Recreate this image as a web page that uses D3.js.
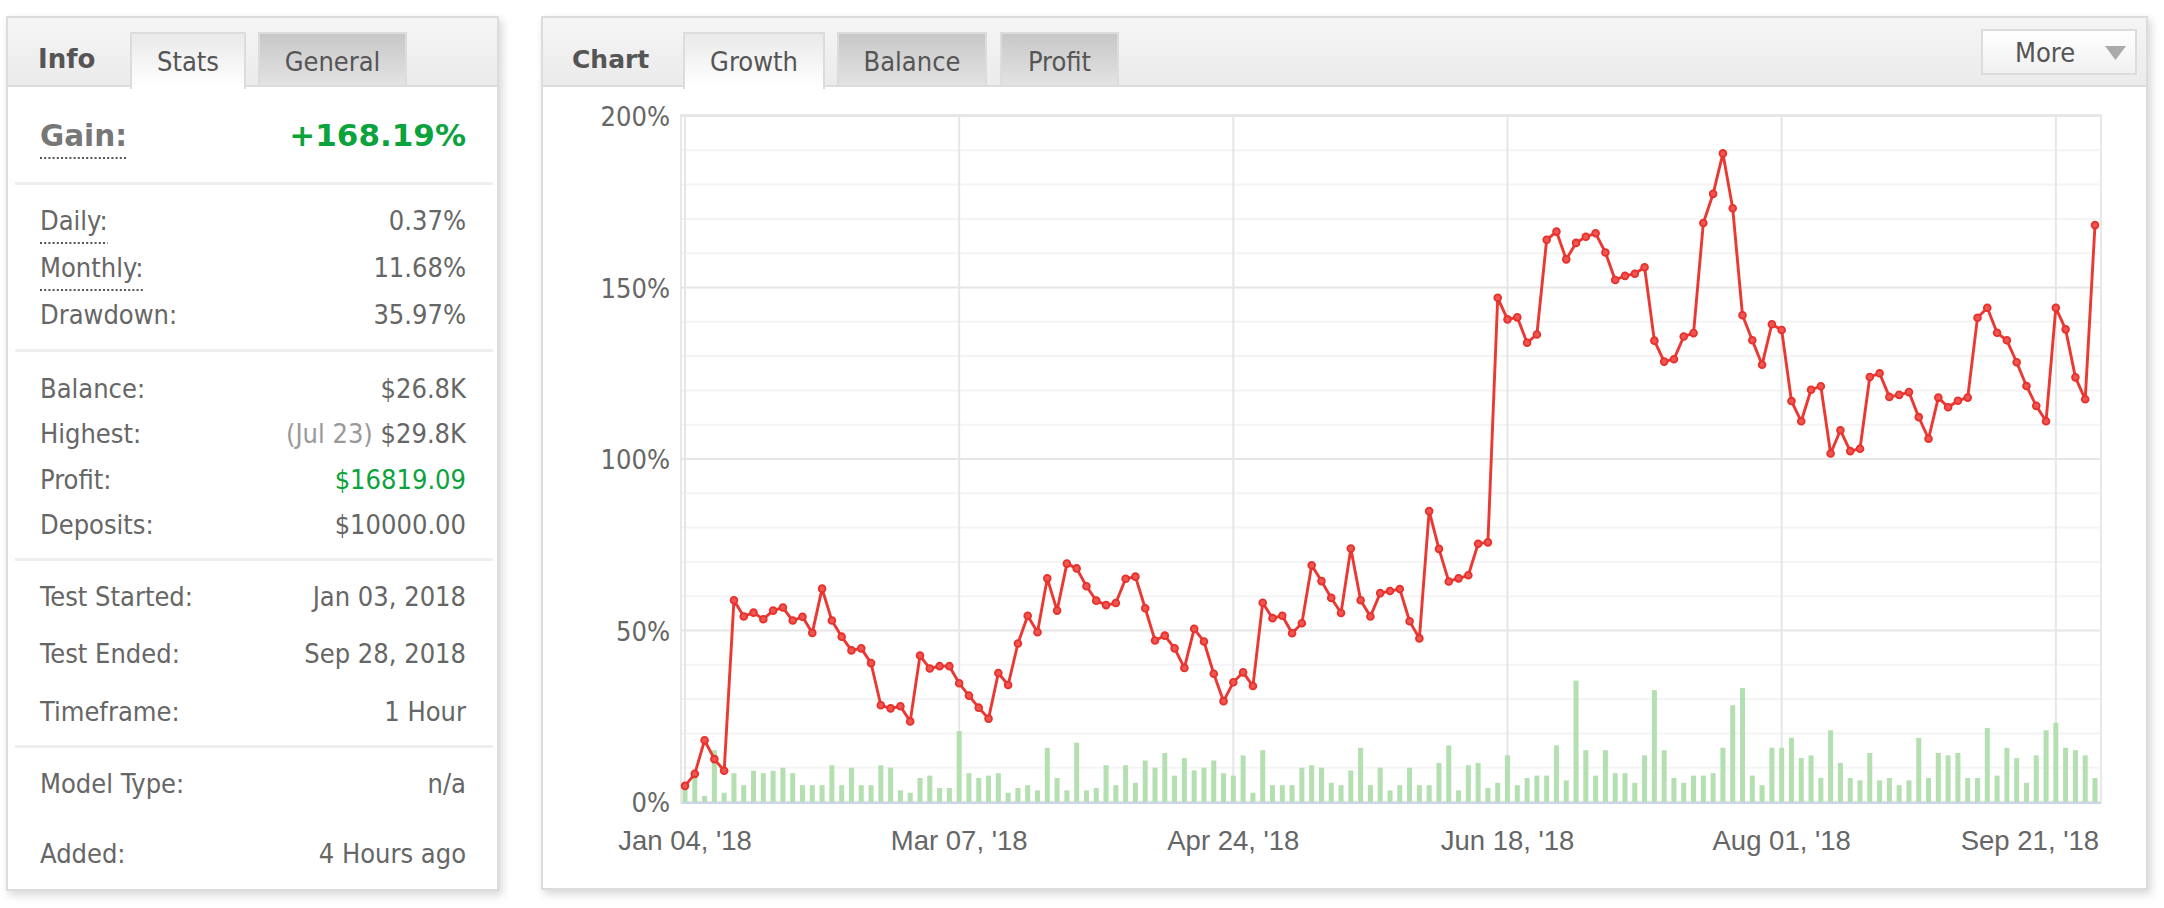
<!DOCTYPE html>
<html><head><meta charset="utf-8">
<script src="https://cdn.jsdelivr.net/npm/d3@7"></script>
<style>html,body{margin:0;padding:0;background:#fff;} svg{display:block;}</style>
</head><body>
<svg id="c" width="2164" height="908"></svg>
<script>
// ---------- data ----------
const growth = [4.7, 8.2, 18.0, 12.5, 9.1, 58.8, 54.1, 55.2, 53.3, 55.8, 56.7, 52.9, 54.0, 49.3, 62.2, 52.9, 48.2, 44.2, 44.8, 40.5,
  28.2, 27.3, 27.9, 23.5, 42.7, 38.9, 39.6, 39.6, 34.6, 31.0, 27.5, 24.3, 37.6, 34.1, 46.2, 54.3, 49.5,
  65.2, 55.8, 69.5, 68.1, 62.9, 58.7, 57.4, 58.0, 65.1, 65.7, 56.5, 47.1, 48.5, 44.8, 39.1, 50.5, 46.8, 37.4, 29.4, 34.9,
  37.8, 33.8, 58.1, 53.6, 54.3, 49.2, 52.1, 69.0, 64.4, 59.5, 55.1, 73.9, 58.8, 54.1, 60.9, 61.5, 62.1,
  52.7, 47.7, 84.8, 73.8, 64.3, 65.2, 66.1, 75.3, 75.7, 147.0, 140.7, 141.3, 133.9, 136.3, 163.9, 166.3, 158.2, 163.0, 164.8, 165.8,
  160.2, 152.2, 153.4, 154.0, 155.9, 134.5, 128.4, 129.1, 135.7, 136.7, 168.8, 177.3, 189.1, 173.1, 141.9, 134.6, 127.5,
  139.3, 137.6, 116.9, 111.0, 120.2, 121.2, 101.6, 108.4, 102.3, 103.0, 123.9, 125.0, 118.1, 118.7, 119.5, 112.2, 105.9, 117.9, 115.1, 117.0,
  117.9, 141.2, 144.1, 136.8, 134.6, 128.2, 121.3, 115.5, 111.0, 144.1, 137.8, 123.8, 117.4, 168.19];
const volume = [3.8, 7.3, 1.8, 15.1, 2.7, 8.4, 4.9, 9.1, 8.4, 9.1, 10.0, 8.4, 4.9, 4.9, 4.9, 10.7, 4.9, 10.0, 4.9, 4.9,
  10.7, 10.0, 3.4, 2.7, 7.0, 7.7, 4.1, 4.1, 20.7, 8.4, 7.0, 7.7, 8.4, 2.7, 4.1, 4.9, 3.4,
  15.8, 7.0, 3.4, 17.3, 3.4, 4.1, 10.7, 4.9, 10.7, 5.6, 12.1, 10.0, 14.3, 7.7, 12.8, 9.2, 10.0, 12.1, 8.4, 7.7,
  13.6, 2.7, 15.1, 4.9, 4.9, 4.9, 10.0, 10.7, 10.0, 5.6, 4.9, 9.2, 15.8, 4.9, 10.0, 3.4, 4.9,
  10.0, 4.9, 4.9, 11.4, 16.5, 3.4, 10.7, 11.4, 4.1, 5.6, 13.6, 4.9, 7.0, 7.7, 7.7, 16.5, 6.3, 35.4, 15.1, 7.7,
  15.1, 8.4, 8.4, 5.6, 13.6, 32.6, 15.1, 7.0, 5.6, 7.7, 7.7, 8.4, 15.8, 28.2, 33.2, 7.7, 4.9,
  15.8, 15.8, 18.7, 12.8, 13.6, 7.0, 20.9, 11.4, 7.0, 6.3, 14.3, 6.3, 7.0, 4.9, 6.3, 18.7, 7.0, 14.3, 13.6, 14.3,
  7.0, 7.0, 21.6, 7.7, 15.8, 12.8, 5.6, 13.6, 20.9, 23.1, 15.8, 15.1, 13.6, 7.0];
const tickIndex = [0, 28, 56, 84, 112, 140];
const tickLabels = ["Jan 04, '18", "Mar 07, '18", "Apr 24, '18", "Jun 18, '18", "Aug 01, '18", "Sep 21, '18"];
const yMajor = [0, 50, 100, 150, 200];
const yMinor = [10, 20, 30, 40, 60, 70, 80, 90, 110, 120, 130, 140, 160, 170, 180, 190];
const infoTabs = ["Stats", "General"];
const chartTabs = ["Growth", "Balance", "Profit"];
const statLabels = ["Gain:", "Daily:", "Monthly:", "Drawdown:", "Balance:", "Highest:", "Profit:", "Deposits:",
  "Test Started:", "Test Ended:", "Timeframe:", "Model Type:", "Added:"];
const statValues = ["+168.19%", "0.37%", "11.68%", "35.97%", "$26.8K", "$29.8K", "$16819.09", "$10000.00",
  "Jan 03, 2018", "Sep 28, 2018", "1 Hour", "n/a", "4 Hours ago"];
const statNotes = {"Highest:": "(Jul 23)"};

// ---------- styles / layout ----------
const TAH = "'DejaVu Sans Condensed','DejaVu Sans',sans-serif";
const VERB = "'DejaVu Sans',sans-serif";
const ARI = "'Liberation Sans',Arial,sans-serif";
const GRAY = "#666", GREEN = "#0aa33c";
const FS = 27;
const rowY = [146, 230, 277, 324, 398, 443, 489, 534, 606, 663, 721, 793, 863];
const dotted = ["Gain:", "Daily:", "Monthly:"];
const greenVals = ["Gain:", "Profit:"];
const sepY = [183, 350, 559, 746];

const svg = d3.select("#c");
const defs = svg.append("defs");
function grad(id, c1, c2) {
  const g = defs.append("linearGradient").attr("id", id).attr("x1", 0).attr("y1", 0).attr("x2", 0).attr("y2", 1);
  g.append("stop").attr("offset", "0%").attr("stop-color", c1);
  g.append("stop").attr("offset", "100%").attr("stop-color", c2);
}
grad("hdr", "#f5f5f5", "#ebebeb");
grad("tabOn", "#e9e9e9", "#ffffff");
grad("tabOff", "#c7c7c7", "#e3e3e3");
grad("btn", "#ffffff", "#f0f0f0");
const f = defs.append("filter").attr("id", "sh").attr("x", "-5%").attr("y", "-5%").attr("width", "110%").attr("height", "110%");
f.append("feDropShadow").attr("dx", 3).attr("dy", 4).attr("stdDeviation", 4).attr("flood-color", "#000").attr("flood-opacity", 0.16);

function panel(x, y, w, h) {
  svg.append("rect").attr("x", x).attr("y", y).attr("width", w).attr("height", h)
    .attr("fill", "#fff").attr("stroke", "#dcdcdc").attr("stroke-width", 2).attr("filter", "url(#sh)");
  svg.append("rect").attr("x", x + 1).attr("y", y + 1).attr("width", w - 2).attr("height", 68).attr("fill", "url(#hdr)");
  svg.append("line").attr("x1", x + 1).attr("x2", x + w - 1).attr("y1", y + 69).attr("y2", y + 69)
    .attr("stroke", "#dcdcdc").attr("stroke-width", 2);
}
function tab(x, w, label, active) {
  svg.append("rect").attr("x", x).attr("y", 33).attr("width", w).attr("height", active ? 55 : 53)
    .attr("fill", active ? "url(#tabOn)" : "url(#tabOff)").attr("stroke", "#dcdcdc").attr("stroke-width", 2);
  if (active) svg.append("rect").attr("x", x + 1).attr("y", 84).attr("width", w - 2).attr("height", 5).attr("fill", "#fff");
  svg.append("text").attr("x", x + w / 2).attr("y", 71).attr("text-anchor", "middle")
    .attr("font-family", TAH).attr("font-stretch", "condensed").attr("font-size", FS).attr("fill", "#555").text(label);
}

// ---------- left panel ----------
panel(7, 17, 491, 873);
svg.append("text").attr("x", 38).attr("y", 68).attr("font-family", VERB).attr("font-weight", "bold")
  .attr("font-size", 26).attr("fill", "#555").text("Info");
const infoTabX = [[131, 114], [259, 147]];
infoTabs.forEach((t, i) => tab(infoTabX[i][0], infoTabX[i][1], t, i === 0));

sepY.forEach(y => svg.append("rect").attr("x", 15).attr("y", y - 1).attr("width", 478).attr("height", 3).attr("fill", "#eeeeee"));

statLabels.forEach((lab, i) => {
  const big = i === 0;
  const t = svg.append("text").attr("x", 40).attr("y", rowY[i])
    .attr("font-family", big ? VERB : TAH).attr("font-stretch", big ? null : "condensed")
    .attr("font-weight", big ? "bold" : "normal").attr("font-size", big ? 29.5 : FS)
    .attr("fill", big ? "#777" : GRAY).text(lab);
  if (dotted.includes(lab)) {
    const w = t.node().getComputedTextLength();
    svg.append("line").attr("x1", 40).attr("x2", 40 + w).attr("y1", rowY[i] + (big ? 12 : 13)).attr("y2", rowY[i] + (big ? 12 : 13))
      .attr("stroke", "#555").attr("stroke-width", 2).attr("stroke-dasharray", "2,2.2");
  }
  const v = svg.append("text").attr("x", 466).attr("y", rowY[i]).attr("text-anchor", "end")
    .attr("font-family", big ? VERB : TAH).attr("font-stretch", big ? null : "condensed")
    .attr("font-weight", big ? "bold" : "normal").attr("font-size", big ? 31 : FS)
    .attr("fill", greenVals.includes(lab) ? GREEN : GRAY);
  if (statNotes[lab]) v.append("tspan").attr("fill", "#999").text(statNotes[lab] + " ");
  v.append("tspan").text(statValues[i]);
});

// ---------- chart panel ----------
panel(542, 17, 1605, 872);
svg.append("text").attr("x", 572).attr("y", 68).attr("font-family", VERB).attr("font-weight", "bold")
  .attr("font-size", 25).attr("fill", "#555").text("Chart");
const chartTabX = [[684, 140], [838, 148], [1001, 117]];
chartTabs.forEach((t, i) => tab(chartTabX[i][0], chartTabX[i][1], t, i === 0));
// More button
svg.append("rect").attr("x", 1982).attr("y", 30).attr("width", 154).attr("height", 44)
  .attr("fill", "url(#btn)").attr("stroke", "#dcdcdc").attr("stroke-width", 2);
svg.append("text").attr("x", 2015).attr("y", 62).attr("font-family", TAH).attr("font-stretch", "condensed")
  .attr("font-size", FS).attr("fill", "#555").text("More");
svg.append("path").attr("d", "M2105,46 L2126,46 L2115.5,60 Z").attr("fill", "#aaa");

// plot
const x = d3.scaleLinear().domain([0, growth.length - 1]).range([685, 2095]);
const y = d3.scaleLinear().domain([0, 200]).range([802, 116]);
const plot = svg.append("g");
plot.append("rect").attr("x", 681).attr("y", 115).attr("width", 1420).attr("height", 688)
  .attr("fill", "none").attr("stroke", "#e8e8e8").attr("stroke-width", 2);
plot.selectAll(".ymin").data(yMinor).join("line")
  .attr("x1", 682).attr("x2", 2100).attr("y1", d => y(d)).attr("y2", d => y(d))
  .attr("stroke", "#f4f4f4").attr("stroke-width", 2);
plot.selectAll(".ymaj").data(yMajor).join("line")
  .attr("x1", 682).attr("x2", 2100).attr("y1", d => y(d)).attr("y2", d => y(d))
  .attr("stroke", "#e6e6e6").attr("stroke-width", 2);
plot.selectAll(".xg").data(tickIndex).join("line")
  .attr("x1", d => x(d)).attr("x2", d => x(d)).attr("y1", 116).attr("y2", 802)
  .attr("stroke", "#e6e6e6").attr("stroke-width", 2);

// y labels
plot.selectAll(".yl").data(yMajor).join("text")
  .attr("x", 670).attr("y", d => y(d) + 10).attr("text-anchor", "end")
  .attr("font-family", TAH).attr("font-stretch", "condensed").attr("font-size", FS).attr("fill", GRAY)
  .text(d => d + "%");

// bars
plot.selectAll(".bar").data(volume).join("rect")
  .attr("x", (d, i) => x(i) - 2.5).attr("width", 5)
  .attr("y", d => y(d)).attr("height", d => y(0) - y(d)).attr("fill", "#b4dfb0");

// axis line
plot.append("line").attr("x1", 682).attr("x2", 2101).attr("y1", 803).attr("y2", 803)
  .attr("stroke", "#ccd6eb").attr("stroke-width", 2);

// x labels
plot.selectAll(".xl").data(tickIndex).join("text")
  .attr("y", 850).attr("font-family", ARI).attr("font-size", 27.5).attr("fill", GRAY)
  .text((d, i) => tickLabels[i])
  .each(function (d) {
    const w = this.getComputedTextLength();
    let cx = x(d) - w / 2;
    if (cx + w > 2099) cx = 2099 - w;
    d3.select(this).attr("x", cx);
  });

// line + markers
const line = d3.line().x((d, i) => x(i)).y(d => y(d));
plot.append("path").datum(growth).attr("d", line).attr("fill", "none")
  .attr("stroke", "#ec3833").attr("stroke-width", 2.9).attr("stroke-linejoin", "round");
plot.selectAll(".pt").data(growth).join("circle")
  .attr("cx", (d, i) => x(i)).attr("cy", d => y(d)).attr("r", 3.4)
  .attr("fill", "#ef5551").attr("stroke", "#e8302b").attr("stroke-width", 1.8);
</script>
</body></html>
